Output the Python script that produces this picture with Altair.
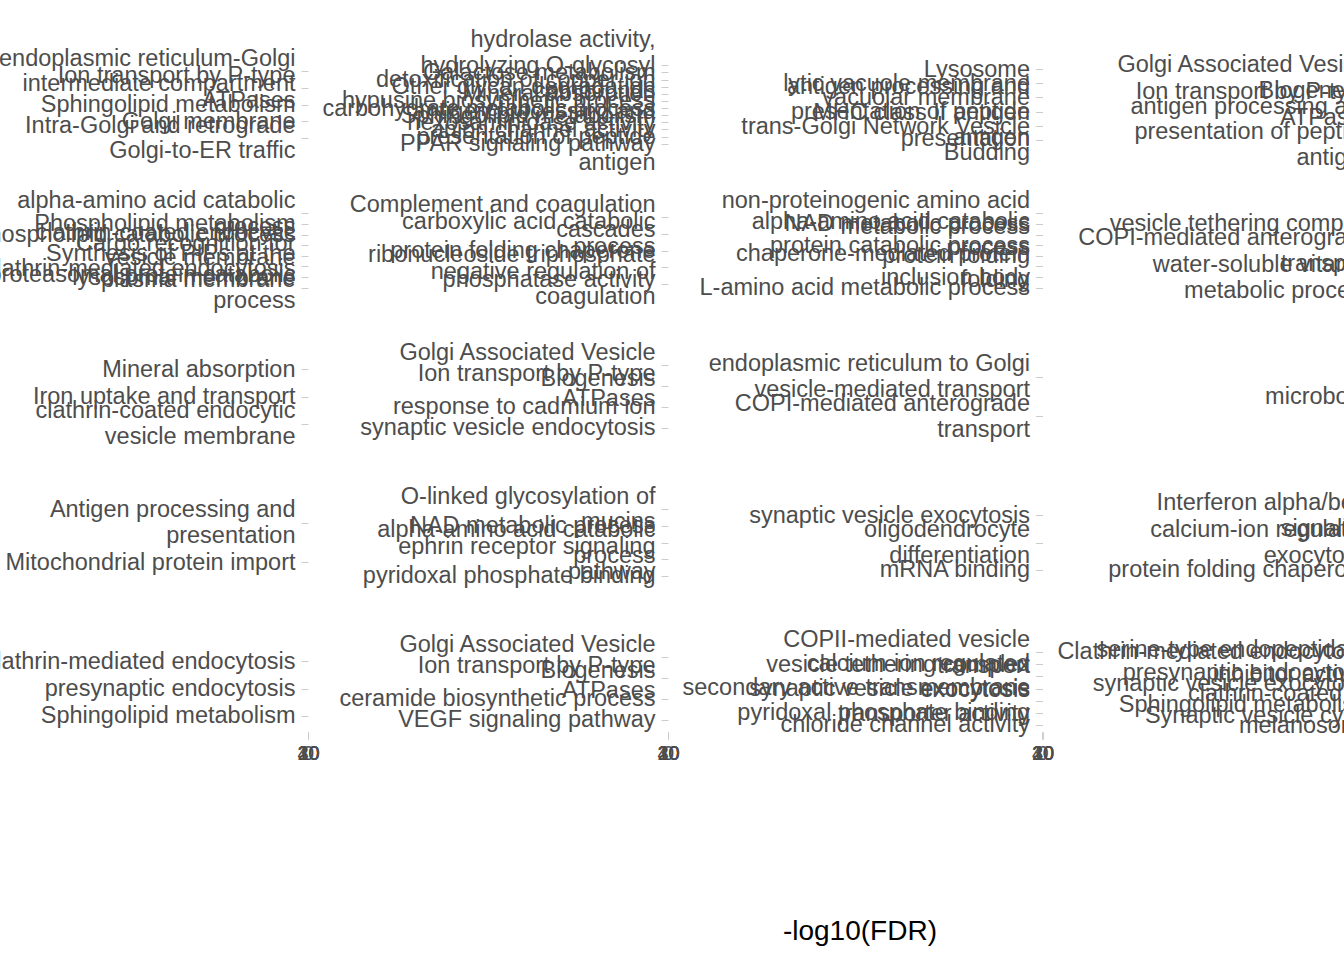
import textwrap
import altair as alt
import pandas as pd

# ---- data: one list of terms and one list of -log10(FDR) per facet (top -> bottom)
R1C1_TERMS = ["endoplasmic reticulum-Golgi intermediate compartment", "Ion transport by P-type ATPases",
              "Sphingolipid metabolism", "Golgi membrane", "Intra-Golgi and retrograde Golgi-to-ER traffic"]
R1C1_VALUES = [12.1, 9.4, 7.8, 6.2, 5.1]
R1C2_TERMS = ["hydrolase activity, hydrolyzing O-glycosyl compounds", "Galactose metabolism",
              "detoxification of copper ion", "Other glycan degradation", "Mineral absorption",
              "hypusine biosynthetic process", "carbohydrate metabolic process", "Sphingolipid metabolism",
              "hexosaminidase activity", "anion channel activity",
              "antigen processing and presentation of peptide antigen", "PPAR signaling pathway"]
R1C2_VALUES = [8.3, 7.9, 7.1, 6.8, 6.2, 5.9, 5.5, 5.1, 4.8, 4.4, 4.0, 3.6]
R1C3_TERMS = ["Lysosome", "lytic vacuole membrane", "vacuolar membrane",
              "antigen processing and presentation of peptide antigen", "MHC class II antigen presentation",
              "trans-Golgi Network Vesicle Budding"]
R1C3_VALUES = [14.2, 11.5, 10.8, 8.7, 7.3, 6.1]
R1C4_TERMS = ["Golgi Associated Vesicle Biogenesis", "Ion transport by P-type ATPases",
              "antigen processing and presentation of peptide antigen"]
R1C4_VALUES = [9.6, 7.2, 5.8]

R2C1_TERMS = ["alpha-amino acid catabolic process", "Phospholipid metabolism", "phospholipid catabolic process",
              "clathrin-coated endocytic vesicle membrane", "Cargo recognition for Clathrin-mediated endocytosis",
              "Synthesis of PIPs at the plasma membrane", "lysosomal membrane",
              "proteasomal protein catabolic process"]
R2C1_VALUES = [10.4, 9.8, 8.9, 8.1, 7.4, 6.6, 5.9, 5.2]
R2C2_TERMS = ["Complement and coagulation cascades", "carboxylic acid catabolic process", "protein folding chaperone",
              "ribonucleoside triphosphate phosphatase activity", "negative regulation of coagulation"]
R2C2_VALUES = [22.5, 15.3, 11.8, 9.7, 8.2]
R2C3_TERMS = ["non-proteinogenic amino acid metabolic process", "NAD metabolic process",
              "alpha-amino acid catabolic process", "protein catabolic process", "protein folding",
              "chaperone-mediated protein folding", "inclusion body", "L-amino acid metabolic process"]
R2C3_VALUES = [9.1, 8.6, 8.0, 7.5, 6.9, 6.3, 5.7, 5.0]
R2C4_TERMS = ["vesicle tethering complex", "COPI-mediated anterograde transport",
              "water-soluble vitamin metabolic process"]
R2C4_VALUES = [6.8, 5.9, 4.7]

R3C1_TERMS = ["Mineral absorption", "Iron uptake and transport", "clathrin-coated endocytic vesicle membrane"]
R3C1_VALUES = [11.2, 8.5, 6.4]
R3C2_TERMS = ["Golgi Associated Vesicle Biogenesis", "Ion transport by P-type ATPases", "response to cadmium ion",
              "synaptic vesicle endocytosis"]
R3C2_VALUES = [7.7, 6.9, 5.6, 4.8]
R3C3_TERMS = ["endoplasmic reticulum to Golgi vesicle-mediated transport", "COPI-mediated anterograde transport"]
R3C3_VALUES = [8.9, 6.3]
R3C4_TERMS = ["microbody"]
R3C4_VALUES = [4.2]

R4C1_TERMS = ["Antigen processing and presentation", "Mitochondrial protein import"]
R4C1_VALUES = [13.6, 7.9]
R4C2_TERMS = ["O-linked glycosylation of mucins", "NAD metabolic process", "alpha-amino acid catabolic process",
              "ephrin receptor signaling pathway", "pyridoxal phosphate binding"]
R4C2_VALUES = [6.7, 6.1, 5.5, 4.9, 4.3]
R4C3_TERMS = ["synaptic vesicle exocytosis", "oligodendrocyte differentiation", "mRNA binding"]
R4C3_VALUES = [9.3, 7.1, 5.4]
R4C4_TERMS = ["Interferon alpha/beta signaling", "calcium-ion regulated exocytosis", "protein folding chaperone"]
R4C4_VALUES = [38.2, 7.6, 5.9]

R5C1_TERMS = ["Clathrin-mediated endocytosis", "presynaptic endocytosis", "Sphingolipid metabolism"]
R5C1_VALUES = [10.5, 8.8, 6.9]
R5C2_TERMS = ["Golgi Associated Vesicle Biogenesis", "Ion transport by P-type ATPases", "ceramide biosynthetic process",
              "VEGF signaling pathway"]
R5C2_VALUES = [9.2, 7.8, 6.1, 5.2]
R5C3_TERMS = ["COPII-mediated vesicle transport", "vesicle tethering complex", "calcium-ion regulated exocytosis",
              "synaptic vesicle exocytosis", "secondary active transmembrane transporter activity",
              "pyridoxal phosphate binding", "chloride channel activity"]
R5C3_VALUES = [8.4, 7.7, 7.0, 6.4, 5.8, 5.1, 4.6]
R5C4_TERMS = ["Clathrin-mediated endocytosis", "serine-type endopeptidase inhibitor activity",
              "presynaptic endocytosis", "synaptic vesicle exocytosis", "clathrin-coated pit",
              "Sphingolipid metabolism", "Synaptic vesicle cycle", "melanosome"]
R5C4_VALUES = [9.9, 9.1, 8.2, 7.6, 6.8, 6.0, 5.3, 4.5]

ROWS = [
    [(R1C1_TERMS, R1C1_VALUES), (R1C2_TERMS, R1C2_VALUES), (R1C3_TERMS, R1C3_VALUES), (R1C4_TERMS, R1C4_VALUES)],
    [(R2C1_TERMS, R2C1_VALUES), (R2C2_TERMS, R2C2_VALUES), (R2C3_TERMS, R2C3_VALUES), (R2C4_TERMS, R2C4_VALUES)],
    [(R3C1_TERMS, R3C1_VALUES), (R3C2_TERMS, R3C2_VALUES), (R3C3_TERMS, R3C3_VALUES), (R3C4_TERMS, R3C4_VALUES)],
    [(R4C1_TERMS, R4C1_VALUES), (R4C2_TERMS, R4C2_VALUES), (R4C3_TERMS, R4C3_VALUES), (R4C4_TERMS, R4C4_VALUES)],
    [(R5C1_TERMS, R5C1_VALUES), (R5C2_TERMS, R5C2_VALUES), (R5C3_TERMS, R5C3_VALUES), (R5C4_TERMS, R5C4_VALUES)],
]

FONT = "Liberation Sans"
TEXT_GREY = "#4d4d4d"
TICK_GREY = "#cccccc"
LABEL_SIZE = 23.5
LINE_H = 25.5


def wrap(s):
    return "\n".join(textwrap.wrap(s, 30, break_on_hyphens=False, break_long_words=False))


# centre multi-line labels on their tick
LABEL_OFFSET = {
    "condition": [
        {"test": "length(split(datum.value, '\\n')) >= 3", "value": -LINE_H},
        {"test": "length(split(datum.value, '\\n')) == 2", "value": -LINE_H / 2},
    ],
    "value": 0,
}


def panel(terms, values, bottom):
    df = pd.DataFrame({"term": [wrap(t) for t in terms], "value": values})
    order = list(df["term"])
    if bottom:
        x_axis = alt.Axis(values=[0, 10, 20, 30, 40], labelFontSize=20, labelColor=TEXT_GREY,
                          tickColor=TICK_GREY, tickSize=7, labelPadding=4, domain=False, grid=False,
                          labelFont=FONT, labelOverlap=False, labelFlush=False)
    else:
        x_axis = None
    return alt.Chart(df).mark_bar(color="#595959").encode(
        x=alt.X("value:Q", scale=alt.Scale(domain=[0, 40]), axis=x_axis, title=None),
        y=alt.Y("term:N", sort=order, title=None,
                scale=alt.Scale(type="point", padding=0.6),
                axis=alt.Axis(labelExpr="split(datum.label, '\\n')", labelFontSize=LABEL_SIZE,
                              labelLineHeight=LINE_H, labelColor=TEXT_GREY, labelFont=FONT,
                              labelOffset=LABEL_OFFSET,
                              tickColor=TICK_GREY, tickSize=7, labelPadding=6, domain=False,
                              grid=False, labelOverlap=False, labelLimit=0)),
    ).properties(width=0.01, height=87)


rows = []
for ri, row in enumerate(ROWS):
    bottom = ri == len(ROWS) - 1
    p = [panel(t, v, bottom) for t, v in row]
    inner = alt.hconcat(p[2], p[3], spacing=342.5, bounds="flush")
    mid = alt.hconcat(p[1], inner, spacing=373.5, bounds="flush")
    rows.append(alt.hconcat(p[0], mid, spacing=359, bounds="flush"))

chart = alt.vconcat(*rows, spacing=146, bounds="flush").properties(
    title=alt.TitleParams("-log10(FDR)", orient="bottom", anchor="start", align="center", dx=885,
                          offset=155, fontSize=28, color="black", fontWeight="normal", font=FONT),
    padding={"left": -26, "top": 27, "right": -54, "bottom": 0},
    background="white",
).configure_view(stroke=None)

chart.save("out.html", embed_options={"renderer": "svg", "actions": False})
